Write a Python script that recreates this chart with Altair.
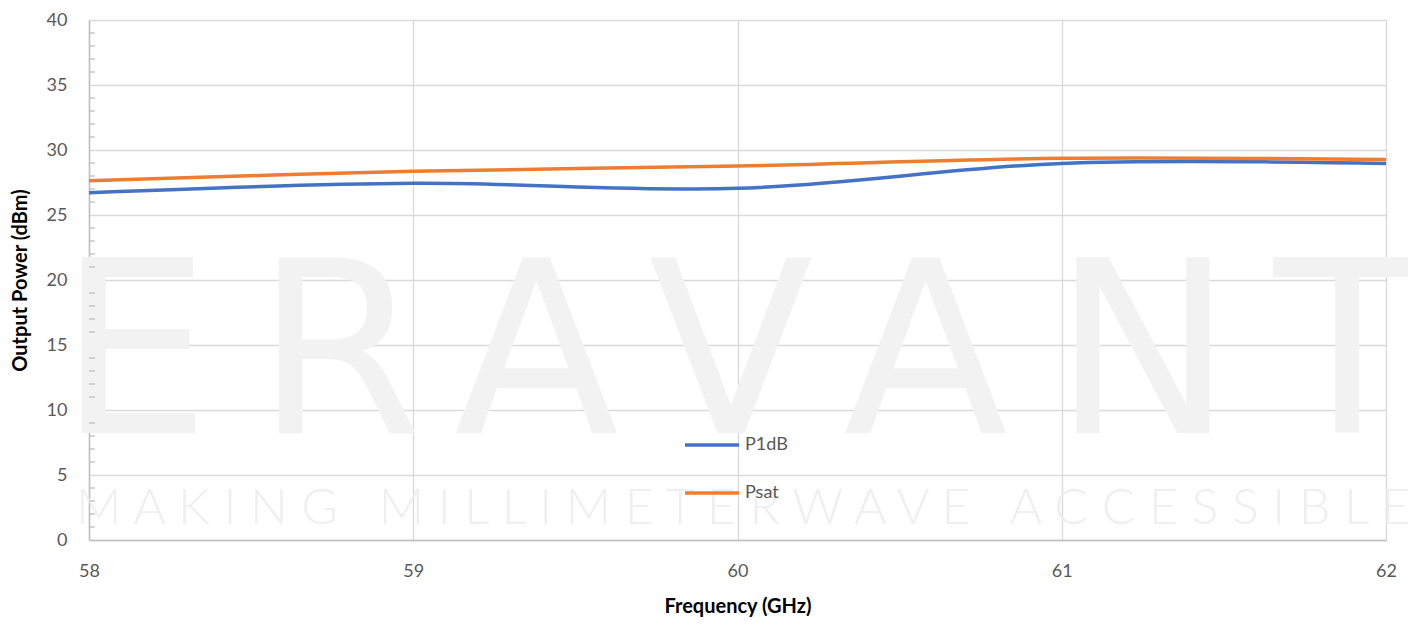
import altair as alt
import pandas as pd

# ---- data ----
freq = [58, 59, 60, 61, 62]
p1db = [26.72, 27.44, 27.05, 28.97, 28.97]
psat = [27.64, 28.36, 28.77, 29.36, 29.26]
series_names = ["P1dB", "Psat"]
series_colors = ["#4472C4", "#ED7D31"]

x_ticks = [58, 59, 60, 61, 62]
y_ticks = [0, 5, 10, 15, 20, 25, 30, 35, 40]
y_minor = [v for v in range(0, 41) if v % 5 != 0]

# watermark (decoration), positions in data units
wm_letters = ["E", "R", "A", "V", "A", "N", "T"]
wm_x = [58.14, 58.77, 59.38, 59.98, 60.58, 61.25, 61.88]
wm_base = 8.23
NB = "\u00a0"
tag_words = ["MAKING", "MILLIMETERWAVE", "ACCESSIBLE"]
tagline = (" " + NB + " ").join(" ".join(w) for w in tag_words)
tag_x = 57.96
tag_base = 1.23

FONT = "Lato"
GRAY = "#595959"

df = pd.DataFrame({
    "freq": freq * 2,
    "power": p1db + psat,
    "series": [series_names[0]] * len(freq) + [series_names[1]] * len(freq),
})
wm_df = pd.DataFrame({"x": wm_x, "y": [wm_base] * len(wm_x), "t": wm_letters})
tag_df = pd.DataFrame({"x": [tag_x], "y": [tag_base], "t": [tagline]})
minor_df = pd.DataFrame({"y": y_minor})

xscale = alt.Scale(domain=[58, 62], nice=False, zero=False)
yscale = alt.Scale(domain=[0, 40], nice=False)

x_axis = alt.Axis(
    values=x_ticks, title="Frequency (GHz)", grid=True, gridColor="#d9d9d9", gridWidth=1.3,
    domainColor="#bfbfbf", domainWidth=1.5, ticks=False, tickSize=0, labelPadding=22,
    labelFont=FONT, labelFontSize=18, labelColor=GRAY, format="d",
    titleFont=FONT, titleFontSize=20, titleFontWeight="bold", titleColor="#000000",
    titlePadding=16, labelFlush=False,
)
y_axis = alt.Axis(
    values=y_ticks, title="Output Power (dBm)", grid=True, gridColor="#d9d9d9", gridWidth=1.3,
    domainColor="#bfbfbf", domainWidth=1.5, ticks=False, tickSize=0, labelPadding=22,
    labelFont=FONT, labelFontSize=18, labelColor=GRAY,
    titleFont=FONT, titleFontSize=20, titleFontWeight="bold", titleColor="#000000",
    titlePadding=16, labelFlush=False,
)

big = alt.Chart(wm_df).mark_text(
    font="DejaVu Sans", fontSize=241, fontWeight=400, color="#f2f2f2", align="center",
    baseline="alphabetic", clip=False,
).encode(
    x=alt.X("x:Q", scale=xscale, axis=x_axis),
    y=alt.Y("y:Q", scale=yscale, axis=y_axis),
    text="t:N",
)

tag = alt.Chart(tag_df).mark_text(
    font=FONT, fontSize=50, fontWeight=300, color="#efefef", align="left",
    baseline="alphabetic", clip=False,
).encode(
    x=alt.X("x:Q", scale=xscale),
    y=alt.Y("y:Q", scale=yscale),
    text="t:N",
)

minor = alt.Chart(minor_df).mark_rule(color="#bfbfbf", strokeWidth=1.3).encode(
    y=alt.Y("y:Q", scale=yscale),
    x=alt.value(0),
    x2=alt.value(6),
)

lines = alt.Chart(df).mark_line(strokeWidth=3.5, interpolate="catmull-rom").encode(
    x=alt.X("freq:Q", scale=xscale),
    y=alt.Y("power:Q", scale=yscale),
    color=alt.Color(
        "series:N",
        scale=alt.Scale(domain=series_names, range=series_colors),
        legend=alt.Legend(
            orient="none", legendX=594, legendY=396, title=None,
            symbolType="stroke", symbolSize=2916, symbolStrokeWidth=3.5,
            labelFont=FONT, labelFontSize=18, labelColor=GRAY, labelOffset=4,
            rowPadding=10, padding=0,
        ),
    ),
)

chart = alt.layer(big, tag, minor, lines).properties(
    width=1297, height=520,
    autosize=alt.AutoSizeParams(type="none"),
    padding={"left": 81, "top": 12, "right": 22, "bottom": 77},
    background="#ffffff",
).configure_view(stroke=None)

chart.save("out.html", embed_options={"renderer": "svg", "actions": False})
